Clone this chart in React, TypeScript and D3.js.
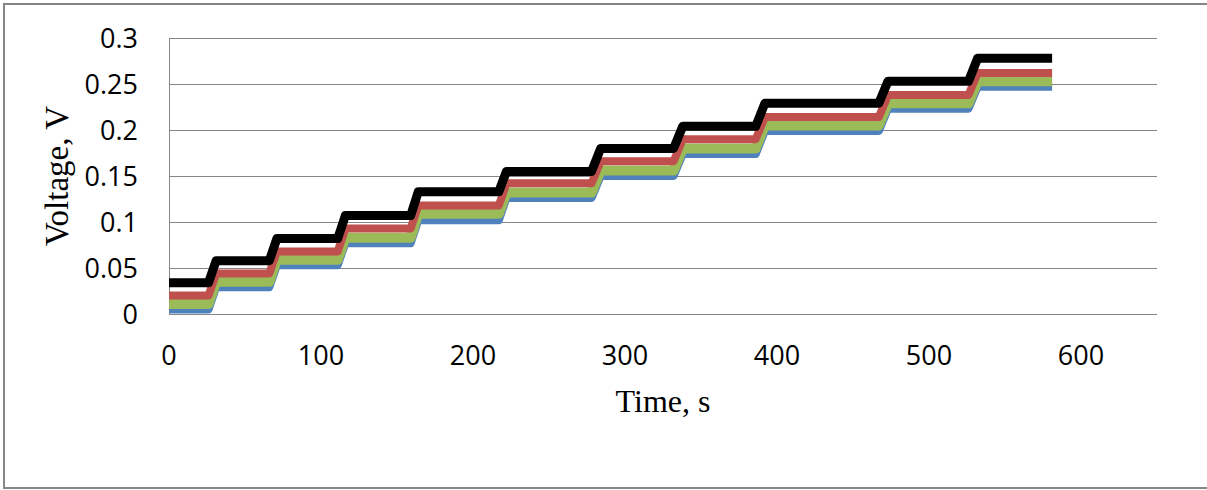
import React from "react";
import * as d3 from "d3";

// step times (s) where each rise starts and ends
const riseStart = [26, 66, 111, 159, 217, 278, 332, 386, 467, 526];
const riseEnd = [31, 71, 116, 164, 222, 284, 338, 392, 473, 532];
const endTime = 581;

// voltage level of each plateau, per series
const blackLevels = [0.034, 0.058, 0.082, 0.107, 0.133, 0.155, 0.180, 0.204, 0.229, 0.253, 0.278];
const redLevels = [0.020, 0.044, 0.068, 0.093, 0.118, 0.142, 0.166, 0.190, 0.214, 0.238, 0.262];
const greenLevels = [0.011, 0.035, 0.059, 0.083, 0.109, 0.132, 0.156, 0.180, 0.205, 0.229, 0.253];
const blueLevels = [0.005, 0.029, 0.053, 0.077, 0.102, 0.126, 0.150, 0.174, 0.199, 0.223, 0.247];

const xTicks = [0, 100, 200, 300, 400, 500, 600];
const yTicks = [0, 0.05, 0.1, 0.15, 0.2, 0.25, 0.3];

const series = [
  { name: "blue", levels: blueLevels, color: "#4F81BD", width: 8 },
  { name: "green", levels: greenLevels, color: "#9BBB59", width: 10 },
  { name: "red", levels: redLevels, color: "#C0504D", width: 8 },
  { name: "black", levels: blackLevels, color: "#000000", width: 9 },
];

function stepPoints(levels: number[]): [number, number][] {
  const pts: [number, number][] = [[0, levels[0]]];
  riseStart.forEach((t, i) => {
    pts.push([t, levels[i]]);
    pts.push([riseEnd[i], levels[i + 1]]);
  });
  pts.push([endTime, levels[levels.length - 1]]);
  return pts;
}

export default function App() {
  const W = 1207,
    H = 490;
  const plot = { left: 169, right: 1157, top: 38, bottom: 314 };

  const x = d3.scaleLinear().domain([0, 650]).range([plot.left, plot.right]);
  const y = d3.scaleLinear().domain([0, 0.3]).range([plot.bottom, plot.top]);

  const line = d3
    .line<[number, number]>()
    .x((d) => x(d[0]))
    .y((d) => y(d[1]));

  const grid = "#868686";
  const tickFont = "'Open Sans', sans-serif";
  const titleFont = "'Liberation Serif', 'Times New Roman', serif";

  return (
    <svg
      width={W}
      height={H}
      style={{ position: "absolute", left: 0, top: 0, background: "#fff" }}
    >
      <rect x={0} y={0} width={W} height={H} fill="#fff" />
      <rect x={4} y={4} width={W + 10} height={484} fill="none" stroke={grid} strokeWidth={2} />

      {/* gridlines */}
      {yTicks.map((v) => (
        <line
          key={"g" + v}
          x1={plot.left}
          x2={plot.right}
          y1={Math.round(y(v)) + 0.5}
          y2={Math.round(y(v)) + 0.5}
          stroke={grid}
          strokeWidth={1}
        />
      ))}
      <line
        x1={plot.left + 0.5}
        x2={plot.left + 0.5}
        y1={plot.top}
        y2={plot.bottom + 1}
        stroke={grid}
        strokeWidth={1}
      />

      {/* series */}
      {series.map((s) => (
        <path
          key={s.name}
          d={line(stepPoints(s.levels)) || ""}
          fill="none"
          stroke={s.color}
          strokeWidth={s.width}
          strokeLinejoin="round"
        />
      ))}

      {/* y tick labels */}
      {yTicks.map((v) => (
        <text
          key={"y" + v}
          x={138}
          y={y(v)}
          dy="0.36em"
          textAnchor="end"
          fontFamily={tickFont}
          fontSize={27}
          fill="#000"
        >
          {d3.format("~g")(v)}
        </text>
      ))}

      {/* x tick labels */}
      {xTicks.map((v) => (
        <text
          key={"x" + v}
          x={x(v)}
          y={355}
          dy="0.36em"
          textAnchor="middle"
          fontFamily={tickFont}
          fontSize={27}
          fill="#000"
        >
          {v}
        </text>
      ))}

      <text
        x={(plot.left + plot.right) / 2}
        y={412}
        textAnchor="middle"
        fontFamily={titleFont}
        fontSize={32}
        fill="#000"
      >
        Time, s
      </text>
      <text
        transform={`translate(68, ${(plot.top + plot.bottom) / 2}) rotate(-90)`}
        textAnchor="middle"
        fontFamily={titleFont}
        fontSize={33}
        fill="#000"
      >
        Voltage, V
      </text>
    </svg>
  );
}
